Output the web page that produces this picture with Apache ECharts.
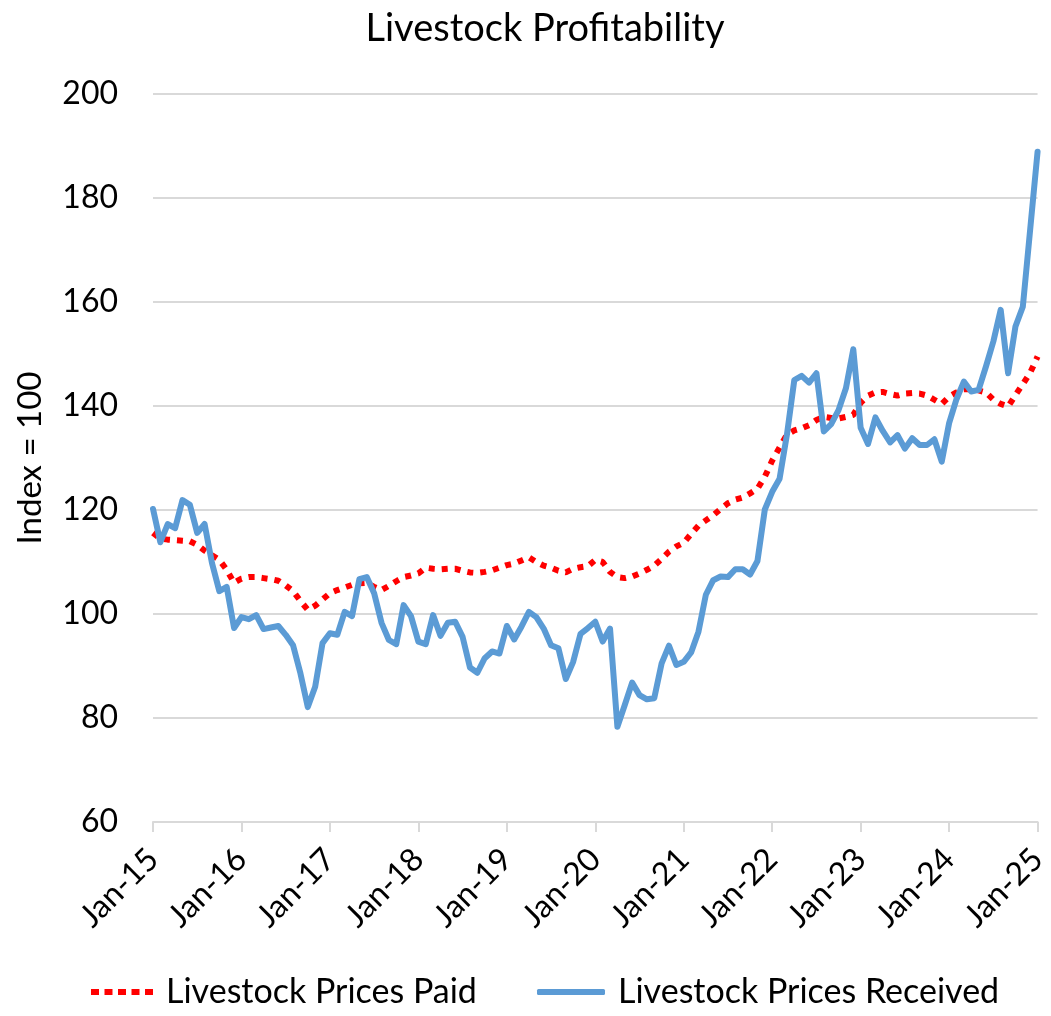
<!DOCTYPE html>
<html>
<head>
<meta charset="utf-8">
<script src="https://cdn.jsdelivr.net/npm/echarts@6/dist/echarts.min.js"></script>
<style>
html,body{margin:0;padding:0;background:#fff;}
#chart{width:1051px;height:1016px;}
</style>
</head>
<body>
<div id="chart"></div>
<script>
const monthNames = ['Jan','Feb','Mar','Apr','May','Jun','Jul','Aug','Sep','Oct','Nov','Dec'];
const years = ['15','16','17','18','19','20','21','22','23','24','25'];
const categories = [];
years.forEach(function (y, i) {
  monthNames.forEach(function (m, j) {
    if (i < years.length - 1 || j === 0) categories.push(m + '-' + y);
  });
});

const yTicks = [60, 80, 100, 120, 140, 160, 180, 200];

const pricesPaid = [
  115.6,114.5,114.3,114.2,114.1,114.0,113.3,112.2,111.3,110.4,108.5,106.0,
  106.8,107.1,107.1,106.9,106.7,106.4,105.5,104.4,102.5,100.8,101.6,102.8,
  104.0,104.6,105.1,105.6,105.9,106.0,105.2,104.6,105.4,106.3,107.1,107.4,
  107.8,108.9,108.7,108.6,108.7,108.7,108.3,108.0,107.9,108.1,108.4,108.9,
  109.4,109.7,110.3,110.9,110.0,109.3,108.9,108.3,108.0,108.7,109.0,109.2,
  110.4,110.0,108.1,107.1,106.9,107.2,107.8,108.5,109.3,110.6,112.0,113.0,
  113.7,115.4,117.0,118.0,119.0,120.2,121.3,122.0,122.4,123.2,124.1,126.4,
  129.5,132.0,134.5,135.3,135.7,136.3,137.3,137.9,137.7,137.6,137.9,138.3,
  140.6,142.0,142.6,142.7,142.3,142.0,142.4,142.5,142.4,142.0,141.2,140.4,
  141.8,142.6,143.2,143.2,143.0,142.6,141.2,140.4,139.9,142.1,144.2,146.4,
  149.5
];

const pricesReceived = [
  120.2,113.8,117.3,116.5,121.9,121.0,115.6,117.3,109.8,104.4,105.2,97.3,
  99.4,99.0,99.8,97.1,97.4,97.7,96.0,94.0,88.6,82.1,86.0,94.4,
  96.3,96.0,100.4,99.6,106.7,107.1,104.0,98.3,95.0,94.2,101.7,99.6,
  94.7,94.2,99.8,95.8,98.3,98.5,95.6,89.7,88.7,91.5,92.8,92.4,
  97.7,95.1,97.6,100.4,99.4,97.2,94.0,93.4,87.5,90.8,96.2,97.3,
  98.5,94.7,97.2,78.3,82.5,86.8,84.4,83.6,83.8,90.5,93.9,90.2,
  90.8,92.6,96.6,103.7,106.5,107.2,107.1,108.6,108.6,107.6,110.2,120.1,
  123.5,126.0,134.5,145.0,145.8,144.5,146.3,135.1,136.5,139.2,143.4,150.9,
  135.8,132.7,137.8,135.2,133.0,134.4,131.8,133.8,132.5,132.5,133.6,129.3,
  136.7,141.3,144.7,142.8,143.1,147.6,152.4,158.5,146.3,155.3,159.1,174.0,
  188.9
];

const FONT = 'Lato, "Open Sans", sans-serif';
const legendText = {fontFamily: FONT, fontSize: 34, color: '#000', padding: [0, 0, 0, 8]};
const chart = echarts.init(document.getElementById('chart'), null, {renderer: 'canvas'});
chart.setOption({
  animation: false,
  backgroundColor: '#ffffff',
  title: {
    text: 'Livestock Profitability',
    left: 540,
    textAlign: 'center',
    top: 5,
    textStyle: {fontFamily: FONT, fontSize: 38, fontWeight: 'normal', color: '#000'}
  },
  legend: [
    {
      bottom: 2,
      left: 86,
      itemWidth: 62,
      itemHeight: 6,
      textStyle: legendText,
      data: [
        {name: 'Livestock Prices Paid', icon: 'path://M0,0H8V6H0Z M13.5,0H21.5V6H13.5Z M27,0H35V6H27Z M40.5,0H48.5V6H40.5Z M54,0H62V6H54Z'}
      ]
    },
    {
      bottom: 2,
      left: 532,
      itemWidth: 68,
      itemHeight: 6,
      textStyle: legendText,
      data: [
        {name: 'Livestock Prices Received', icon: 'roundRect'}
      ]
    }
  ],
  grid: {left: 153, right: 8, top: 94, bottom: 194, containLabel: false},
  xAxis: {
    type: 'category',
    data: categories,
    boundaryGap: false,
    axisLine: {lineStyle: {color: '#D9D9D9', width: 2}},
    axisTick: {show: true, interval: 11, length: 10, lineStyle: {color: '#D9D9D9', width: 2}},
    axisLabel: {
      interval: 11, rotate: 45, margin: 32,
      fontFamily: FONT, fontSize: 32, color: '#000'
    },
    splitLine: {show: false}
  },
  yAxis: {
    type: 'value',
    min: yTicks[0],
    max: yTicks[yTicks.length - 1],
    interval: 20,
    name: 'Index = 100',
    nameLocation: 'middle',
    nameGap: 106,
    nameTextStyle: {fontFamily: FONT, fontSize: 33, color: '#000'},
    axisLine: {show: false},
    axisTick: {show: false},
    axisLabel: {margin: 35, fontFamily: FONT, fontSize: 32, color: '#000'},
    splitLine: {lineStyle: {color: '#D9D9D9', width: 2}}
  },
  series: [
    {
      name: 'Livestock Prices Paid',
      type: 'line',
      data: pricesPaid,
      showSymbol: false,
      symbol: 'none',
      smooth: false,
      color: '#FF0000',
      lineStyle: {color: '#FF0000', width: 6, type: [6, 7], cap: 'butt'},
      z: 3
    },
    {
      name: 'Livestock Prices Received',
      type: 'line',
      data: pricesReceived,
      showSymbol: false,
      symbol: 'none',
      smooth: false,
      color: '#5B9BD5',
      lineStyle: {color: '#5B9BD5', width: 6, cap: 'round', join: 'round'},
      z: 4
    }
  ]
});
</script>
</body>
</html>
